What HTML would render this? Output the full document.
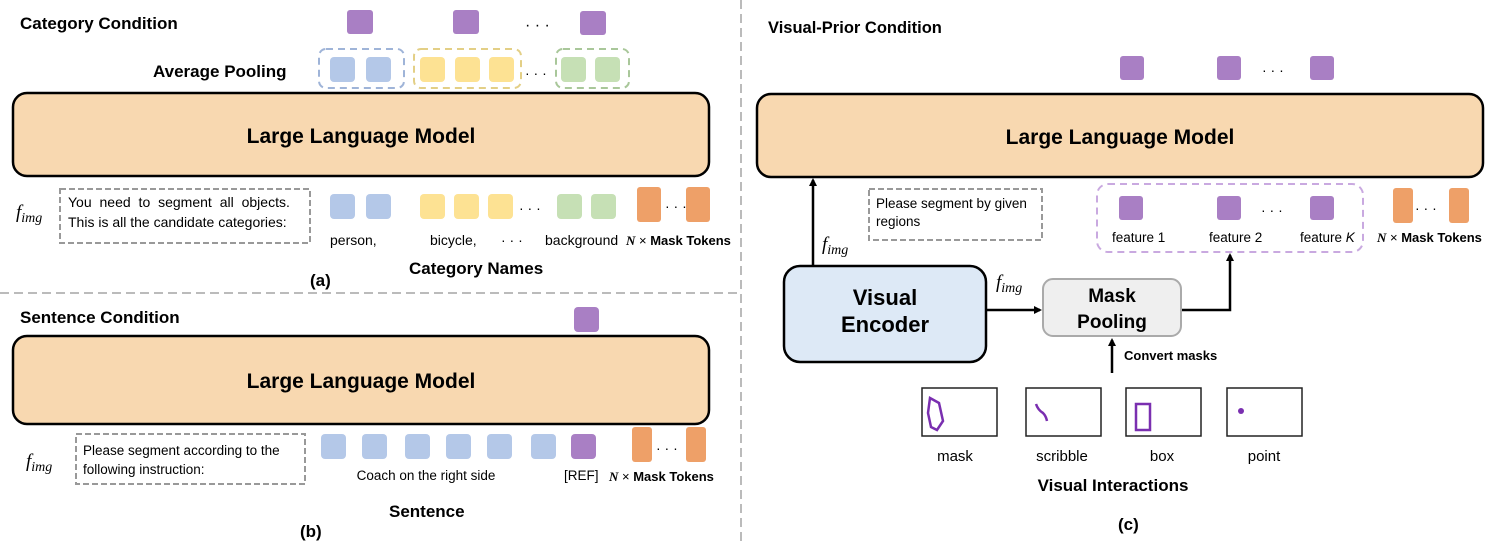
<!DOCTYPE html>
<html><head><meta charset="utf-8"><style>
html,body{margin:0;padding:0;background:#fff}
svg{display:block}
text{font-family:"Liberation Sans",Arial,sans-serif;fill:#000}
.b{font-weight:bold}
.m{font-family:"Liberation Serif",serif;font-style:italic}
</style></head><body>
<svg width="1495" height="545" viewBox="0 0 1495 545" xmlns="http://www.w3.org/2000/svg">
<defs>
<marker id="ar" markerWidth="8" markerHeight="8" refX="6" refY="4" orient="auto" markerUnits="userSpaceOnUse"><path d="M0,0 L8,4 L0,8 z" fill="#000"/></marker>
</defs>
<line x1="0" y1="293" x2="740" y2="293" stroke="#bbb" stroke-width="2" stroke-dasharray="9,5"/>
<line x1="741" y1="0" x2="741" y2="545" stroke="#bbb" stroke-width="2" stroke-dasharray="9,5"/>

<!-- Panel a -->
<text x="20" y="29" class="b" font-size="17">Category Condition</text>
<g fill="#a97fc4">
<rect x="347" y="10" width="26" height="24" rx="3"/><rect x="453" y="10" width="26" height="24" rx="3"/><rect x="580" y="11" width="26" height="24" rx="3"/>
</g>
<text x="525" y="30" font-size="16">· · ·</text>
<text x="153" y="77" class="b" font-size="17">Average Pooling</text>
<rect x="319" y="49" width="85" height="39" rx="7" fill="none" stroke="#9fb4d8" stroke-width="2" stroke-dasharray="7,5"/>
<rect x="414" y="49" width="107" height="39" rx="7" fill="none" stroke="#e3cf86" stroke-width="2" stroke-dasharray="7,5"/>
<rect x="556" y="49" width="73" height="39" rx="7" fill="none" stroke="#a9c79a" stroke-width="2" stroke-dasharray="7,5"/>
<g fill="#b4c8e8"><rect x="330" y="57" width="25" height="25" rx="4"/><rect x="366" y="57" width="25" height="25" rx="4"/></g>
<g fill="#fde293"><rect x="420" y="57" width="25" height="25" rx="4"/><rect x="455" y="57" width="25" height="25" rx="4"/><rect x="489" y="57" width="25" height="25" rx="4"/></g>
<g fill="#c6e0b5"><rect x="561" y="57" width="25" height="25" rx="4"/><rect x="595" y="57" width="25" height="25" rx="4"/></g>
<text x="525" y="78" font-size="14">· · ·</text>
<rect x="13" y="93" width="696" height="83" rx="14" fill="#f8d8b0" stroke="#000" stroke-width="2.5"/>
<text x="361" y="143" class="b" font-size="21" text-anchor="middle">Large Language Model</text>
<text x="16" y="218" class="m" font-size="19">f<tspan font-size="14" dy="4">img</tspan></text>
<rect x="60" y="189" width="250" height="54" fill="none" stroke="#999" stroke-width="2" stroke-dasharray="6,3"/>
<text x="68" y="207" font-size="14" word-spacing="4">You need to segment all objects.</text>
<text x="68" y="227" font-size="14">This is all the candidate categories:</text>
<g fill="#b4c8e8"><rect x="330" y="194" width="25" height="25" rx="4"/><rect x="366" y="194" width="25" height="25" rx="4"/></g>
<g fill="#fde293"><rect x="420" y="194" width="25" height="25" rx="4"/><rect x="454" y="194" width="25" height="25" rx="4"/><rect x="488" y="194" width="25" height="25" rx="4"/></g>
<g fill="#c6e0b5"><rect x="557" y="194" width="25" height="25" rx="4"/><rect x="591" y="194" width="25" height="25" rx="4"/></g>
<text x="519" y="213" font-size="14">· · ·</text>
<g fill="#eea068"><rect x="637" y="187" width="24" height="35" rx="3"/><rect x="686" y="187" width="24" height="35" rx="3"/></g>
<text x="665" y="211" font-size="14">· · ·</text>
<text x="330" y="245" font-size="14">person,</text>
<text x="430" y="245" font-size="14">bicycle,</text>
<text x="501" y="245" font-size="14">· · ·</text>
<text x="545" y="245" font-size="14">background</text>
<text x="626" y="245" font-size="13"><tspan class="m" font-weight="bold">N</tspan> × <tspan class="b">Mask Tokens</tspan></text>
<text x="409" y="274" class="b" font-size="17">Category Names</text>
<text x="310" y="286" class="b" font-size="17">(a)</text>

<!-- Panel b -->
<text x="20" y="323" class="b" font-size="17">Sentence Condition</text>
<rect x="574" y="307" width="25" height="25" rx="4" fill="#a97fc4"/>
<rect x="13" y="336" width="696" height="88" rx="14" fill="#f8d8b0" stroke="#000" stroke-width="2.5"/>
<text x="361" y="388" class="b" font-size="21" text-anchor="middle">Large Language Model</text>
<text x="26" y="467" class="m" font-size="19">f<tspan font-size="14" dy="4">img</tspan></text>
<rect x="76" y="434" width="229" height="50" fill="none" stroke="#999" stroke-width="2" stroke-dasharray="6,3"/>
<text x="83" y="455" font-size="13.5">Please segment according to the</text>
<text x="83" y="474" font-size="13.5">following instruction:</text>
<g fill="#b4c8e8">
<rect x="321" y="434" width="25" height="25" rx="4"/><rect x="362" y="434" width="25" height="25" rx="4"/><rect x="405" y="434" width="25" height="25" rx="4"/><rect x="446" y="434" width="25" height="25" rx="4"/><rect x="487" y="434" width="25" height="25" rx="4"/><rect x="531" y="434" width="25" height="25" rx="4"/>
</g>
<rect x="571" y="434" width="25" height="25" rx="4" fill="#a97fc4"/>
<g fill="#eea068"><rect x="632" y="427" width="20" height="35" rx="3"/><rect x="686" y="427" width="20" height="35" rx="3"/></g>
<text x="656" y="453" font-size="14">· · ·</text>
<text x="426" y="480" font-size="13.5" text-anchor="middle">Coach on the right side</text>
<text x="564" y="480" font-size="13.5">[REF]</text>
<text x="609" y="481" font-size="13"><tspan class="m" font-weight="bold">N</tspan> × <tspan class="b">Mask Tokens</tspan></text>
<text x="389" y="517" class="b" font-size="17">Sentence</text>
<text x="300" y="537" class="b" font-size="17">(b)</text>

<!-- Panel c -->
<text x="768" y="33" class="b" font-size="16.5">Visual-Prior Condition</text>
<g fill="#a97fc4"><rect x="1120" y="56" width="24" height="24" rx="3"/><rect x="1217" y="56" width="24" height="24" rx="3"/><rect x="1310" y="56" width="24" height="24" rx="3"/></g>
<text x="1262" y="75" font-size="14">· · ·</text>
<rect x="757" y="94" width="726" height="83" rx="14" fill="#f8d8b0" stroke="#000" stroke-width="2.5"/>
<text x="1120" y="144" class="b" font-size="21" text-anchor="middle">Large Language Model</text>
<line x1="813" y1="265" x2="813" y2="180" stroke="#000" stroke-width="2.5" marker-end="url(#ar)"/>
<text x="822" y="250" class="m" font-size="19">f<tspan font-size="14" dy="4">img</tspan></text>
<rect x="869" y="189" width="173" height="51" fill="none" stroke="#999" stroke-width="2" stroke-dasharray="6,3"/>
<text x="876" y="208" font-size="13.5">Please segment by given</text>
<text x="876" y="226" font-size="13.5">regions</text>
<rect x="1097" y="184" width="266" height="68" rx="11" fill="none" stroke="#c9a9e0" stroke-width="2" stroke-dasharray="7,5"/>
<g fill="#a97fc4"><rect x="1119" y="196" width="24" height="24" rx="3"/><rect x="1217" y="196" width="24" height="24" rx="3"/><rect x="1310" y="196" width="24" height="24" rx="3"/></g>
<text x="1261" y="215" font-size="14">· · ·</text>
<text x="1112" y="242" font-size="13.5">feature 1</text>
<text x="1209" y="242" font-size="13.5">feature 2</text>
<text x="1300" y="242" font-size="13.5">feature <tspan font-style="italic">K</tspan></text>
<g fill="#eea068"><rect x="1393" y="188" width="20" height="35" rx="3"/><rect x="1449" y="188" width="20" height="35" rx="3"/></g>
<text x="1415" y="213" font-size="14">· · ·</text>
<text x="1377" y="242" font-size="13"><tspan class="m" font-weight="bold">N</tspan> × <tspan class="b">Mask Tokens</tspan></text>
<rect x="784" y="266" width="202" height="96" rx="16" fill="#dde9f6" stroke="#000" stroke-width="2.5"/>
<text x="885" y="305" class="b" font-size="22" text-anchor="middle">Visual</text>
<text x="885" y="332" class="b" font-size="22" text-anchor="middle">Encoder</text>
<text x="996" y="288" class="m" font-size="19">f<tspan font-size="14" dy="4">img</tspan></text>
<line x1="987" y1="310" x2="1040" y2="310" stroke="#000" stroke-width="2.5" marker-end="url(#ar)"/>
<rect x="1043" y="279" width="138" height="57" rx="10" fill="#efefef" stroke="#aaa" stroke-width="2"/>
<text x="1112" y="302" class="b" font-size="19" text-anchor="middle">Mask</text>
<text x="1112" y="328" class="b" font-size="19" text-anchor="middle">Pooling</text>
<polyline points="1182,310 1230,310 1230,255" fill="none" stroke="#000" stroke-width="2.5" marker-end="url(#ar)"/>
<line x1="1112" y1="373" x2="1112" y2="340" stroke="#000" stroke-width="2.5" marker-end="url(#ar)"/>
<text x="1124" y="360" class="b" font-size="13">Convert masks</text>
<g fill="none" stroke="#222" stroke-width="1.5">
<rect x="922" y="388" width="75" height="48"/><rect x="1026" y="388" width="75" height="48"/><rect x="1126" y="388" width="75" height="48"/><rect x="1227" y="388" width="75" height="48"/>
</g>
<path d="M930,398 L939,403 L943,421 L937,430 L931,427 L928,413 Z" fill="none" stroke="#7a2fb0" stroke-width="2.5"/>
<path d="M1036,404 Q1038,410 1043,413 Q1046,416 1047,421" fill="none" stroke="#7a2fb0" stroke-width="2.5"/>
<rect x="1136" y="404" width="14" height="26" fill="none" stroke="#7a2fb0" stroke-width="2.5"/>
<circle cx="1241" cy="411" r="3" fill="#7a2fb0"/>
<g font-size="15" text-anchor="middle"><text x="955" y="461">mask</text><text x="1062" y="461">scribble</text><text x="1162" y="461">box</text><text x="1264" y="461">point</text></g>
<text x="1113" y="491" class="b" font-size="17" text-anchor="middle">Visual Interactions</text>
<text x="1118" y="530" class="b" font-size="17">(c)</text>
</svg>
</body></html>
